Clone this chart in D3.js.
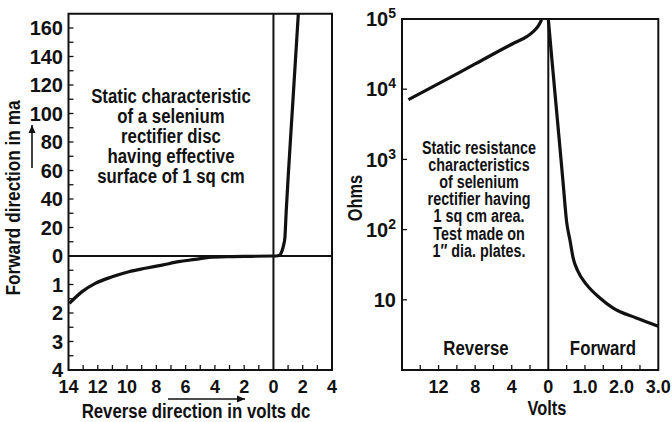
<!DOCTYPE html>
<html>
<head>
<meta charset="utf-8">
<script src="https://cdn.jsdelivr.net/npm/d3@7"></script>
<style>
body { margin: 0; background: #fff; }
text { font-family: "Liberation Sans", Arial, sans-serif; font-weight: bold; fill: #111; }
</style>
</head>
<body>
<svg id="chart" width="672" height="422"></svg>
<script>
// ---- left panel: static current characteristic ----
const fwdVolts = [0, 0.3, 0.44, 0.6, 0.7, 0.78, 0.87, 1.0, 1.3, 1.7]
const fwdMa = [0, 0.2, 0.7, 4, 8, 12.6, 31, 54.5, 104, 170]
const revVolts = [-13.94, -13.07, -12.17, -11.02, -9.88, -8.75, -7.61, -6.47, -5.33, -4.42, -3, -1.5, 0]
const revMa = [1.66, 1.25, 0.96, 0.73, 0.55, 0.43, 0.32, 0.2, 0.12, 0.05, 0.02, 0.01, 0]
const fwdMaTicks = [0, 20, 40, 60, 80, 100, 120, 140, 160]
const revMaTicks = [1, 2, 3, 4]
const leftVoltTicks = [-14, -12, -10, -8, -6, -4, -2, 0, 2, 4]
const leftNote = ["Static characteristic", "of a selenium", "rectifier disc", "having effective", "surface of 1 sq cm"]

// ---- right panel: static resistance ----
const resRevVolts = [15.3, 12, 8, 3.85, 2.36, 1.65, 1.09, 0.73]
const resRevOhms = [7100, 12000, 22900, 44700, 56000, 66000, 80000, 97700]
const resFwdVolts = [0, 0.1, 0.2, 0.3, 0.4, 0.5, 0.59, 0.68, 0.8, 1.05, 1.4, 1.77, 2.4, 3.0]
const resFwdOhms = [100000, 26000, 6900, 1850, 490, 129, 71, 39, 26, 16.3, 10.7, 7.6, 5.5, 4.2]
const ohmTicks = [10, 100, 1000, 10000, 100000]
const revVoltTicks = [12, 8, 4, 0]
const fwdVoltTicks = [1.0, 2.0, 3.0]
const rightNote = ["Static resistance", "characteristics", "of selenium", "rectifier having", "1 sq cm area.", "Test made on", "1\u2033 dia. plates."]

const svg = d3.select("#chart")
const ink = "#111"

// narrow lettering: Liberation Sans squeezed sideways
function word(g, x, y, txt, size, rot) {
    return g.append("text")
        .attr("transform", `translate(${x},${y})` + (rot ? ` rotate(${rot})` : "") + " scale(0.82,1)")
        .attr("text-anchor", "middle").attr("font-size", size)
        .text(txt)
}

function arrow(g, x1, y1, x2, y2) {
    const a = Math.atan2(y2 - y1, x2 - x1)
    g.append("line").attr("x1", x1).attr("y1", y1).attr("x2", x2).attr("y2", y2)
        .attr("stroke", ink).attr("stroke-width", 1.6)
    const h = 8, w = 3.5
    const p = [[x2, y2],
        [x2 - h * Math.cos(a) + w * Math.sin(a), y2 - h * Math.sin(a) - w * Math.cos(a)],
        [x2 - h * Math.cos(a) - w * Math.sin(a), y2 - h * Math.sin(a) + w * Math.cos(a)]]
    g.append("path").attr("d", "M" + p.join("L") + "Z").attr("fill", ink)
}

function ticks(g, data, f) {
    g.selectAll(null).data(data).enter().append("line")
        .each(function(d) {
            const c = f(d)
            d3.select(this).attr("x1", c[0]).attr("y1", c[1]).attr("x2", c[2]).attr("y2", c[3])
        })
        .attr("stroke", ink).attr("stroke-width", 1.3)
}

// ================= left =================
const x1 = d3.scaleLinear().domain([-14, 4]).range([68.5, 332])
const yUp = d3.scaleLinear().domain([0, 170]).range([256, 13.75])
const yDown = d3.scaleLinear().domain([0, 4]).range([256, 370])

const L = svg.append("g")

L.append("rect")
    .attr("x", x1(-14)).attr("y", yUp(170))
    .attr("width", x1(4) - x1(-14)).attr("height", yDown(4) - yUp(170))
    .attr("fill", "none").attr("stroke", ink).attr("stroke-width", 2)

ticks(L, d3.range(10, 161, 10), d => [x1(-14), yUp(d), x1(-14) + 5, yUp(d)])
ticks(L, d3.range(0.5, 4, 0.5), d => [x1(-14), yDown(d), x1(-14) + 5, yDown(d)])
ticks(L, d3.range(-13, 4).filter(d => d != 0), d => [x1(d), yDown(4), x1(d), yDown(4) - 5])

L.selectAll("text.lu").data(fwdMaTicks).enter().append("text")
    .attr("x", 63).attr("y", d => yUp(d)).attr("dy", "0.36em")
    .attr("text-anchor", "end").attr("font-size", 20)
    .text(d => d)
L.selectAll("text.ld").data(revMaTicks).enter().append("text")
    .attr("x", 63).attr("y", d => yDown(d)).attr("dy", "0.36em")
    .attr("text-anchor", "end").attr("font-size", 20)
    .text(d => d)
L.selectAll("text.lx").data(leftVoltTicks).enter().append("text")
    .attr("x", d => x1(d)).attr("y", 393)
    .attr("text-anchor", "middle").attr("font-size", 18)
    .text(d => Math.abs(d))

// axes through zero
L.append("line").attr("x1", x1(-14)).attr("x2", x1(4))
    .attr("y1", yUp(0)).attr("y2", yUp(0))
    .attr("stroke", ink).attr("stroke-width", 2)
L.append("line").attr("x1", x1(0)).attr("x2", x1(0))
    .attr("y1", yUp(170)).attr("y2", yDown(4))
    .attr("stroke", ink).attr("stroke-width", 2)

const fwdLine = d3.line().x(d => x1(d[0])).y(d => yUp(d[1])).curve(d3.curveMonotoneX)
const revLine = d3.line().x(d => x1(d[0])).y(d => yDown(d[1])).curve(d3.curveMonotoneX)
L.append("path").attr("d", fwdLine(d3.zip(fwdVolts, fwdMa)))
    .attr("fill", "none").attr("stroke", ink).attr("stroke-width", 3.2)
L.append("path").attr("d", revLine(d3.zip(revVolts, revMa)))
    .attr("fill", "none").attr("stroke", ink).attr("stroke-width", 3.2)

leftNote.forEach((t, i) => word(L, 171, 102.5 + i * 20.1, t, 20.5))

word(L, 20, 198, "Forward direction in ma", 21, -90)
arrow(L, 32, 168, 32, 125)

word(L, 196, 418, "Reverse direction in volts dc", 20.5)
arrow(L, 168, 399, 245, 399)

// ================= right =================
const xRev = d3.scaleLinear().domain([16, 0]).range([402, 548.3])
const xFwd = d3.scaleLinear().domain([0, 3]).range([548.3, 658.3])
const yOhm = d3.scaleLog().domain([1, 1e5]).range([370, 19])

const R = svg.append("g")

R.append("rect")
    .attr("x", xRev(16)).attr("y", yOhm(1e5))
    .attr("width", xFwd(3) - xRev(16)).attr("height", yOhm(1) - yOhm(1e5))
    .attr("fill", "none").attr("stroke", ink).attr("stroke-width", 2)
R.append("line").attr("x1", xFwd(0)).attr("x2", xFwd(0))
    .attr("y1", yOhm(1e5)).attr("y2", yOhm(1))
    .attr("stroke", ink).attr("stroke-width", 2)

ticks(R, ohmTicks.slice(0, 4), d => [xRev(16), yOhm(d), xRev(16) + 5, yOhm(d)])
ticks(R, d3.range(14, 1, -2), d => [xRev(d), yOhm(1), xRev(d), yOhm(1) - 5])
ticks(R, d3.range(0.5, 2.9, 0.5), d => [xFwd(d), yOhm(1), xFwd(d), yOhm(1) - 5])

const ohmLab = R.selectAll("text.ly").data(ohmTicks).enter().append("text")
    .attr("x", 396).attr("y", d => yOhm(d)).attr("dy", "0.36em")
    .attr("text-anchor", "end").attr("font-size", 20)
ohmLab.append("tspan").text("10")
ohmLab.filter(d => d > 10).append("tspan")
    .attr("font-size", 14).attr("dy", -8)
    .text(d => Math.round(Math.log10(d)))

R.selectAll("text.lr").data(revVoltTicks).enter().append("text")
    .attr("x", d => xRev(d)).attr("y", 393)
    .attr("text-anchor", "middle").attr("font-size", 18)
    .text(d => d)
R.selectAll("text.lf").data(fwdVoltTicks).enter().append("text")
    .attr("x", d => xFwd(d)).attr("y", 393)
    .attr("text-anchor", "middle").attr("font-size", 18)
    .text(d => d.toFixed(1))

const resRevLine = d3.line().x(d => xRev(d[0])).y(d => yOhm(d[1])).curve(d3.curveMonotoneX)
const resFwdLine = d3.line().x(d => xFwd(d[0])).y(d => yOhm(d[1])).curve(d3.curveMonotoneX)
R.append("path").attr("d", resRevLine(d3.zip(resRevVolts, resRevOhms)))
    .attr("fill", "none").attr("stroke", ink).attr("stroke-width", 3.2)
R.append("path").attr("d", resFwdLine(d3.zip(resFwdVolts, resFwdOhms)))
    .attr("fill", "none").attr("stroke", ink).attr("stroke-width", 3.2)

rightNote.forEach((t, i) => word(R, 479, 154 + i * 17.1, t, 17.5))

word(R, 476, 355, "Reverse", 20.5)
word(R, 603, 355, "Forward", 20.5)
word(R, 547, 415, "Volts", 20)
word(R, 362, 198, "Ohms", 20, -90)
</script>
</body>
</html>
